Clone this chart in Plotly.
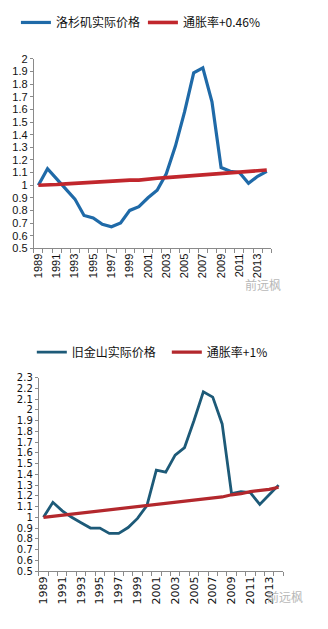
import plotly.graph_objects as go

years = list(range(1989, 2015))

la_real_price = [1.00, 1.13, 1.05, 0.97, 0.89, 0.76, 0.74, 0.69, 0.67, 0.70, 0.80, 0.83, 0.90, 0.96,
                 1.09, 1.31, 1.58, 1.89, 1.93, 1.66, 1.14, 1.11, 1.10, 1.015, 1.07, 1.11]
la_inflation = [1.00, 1.00, 1.005, 1.01, 1.015, 1.02, 1.02, 1.03, 1.035, 1.035, 1.04, 1.04, 1.05, 1.055,
                1.06, 1.065, 1.07, 1.08, 1.085, 1.09, 1.095, 1.10, 1.105, 1.11, 1.115, 1.12]

sf_real_price = [1.00, 1.14, 1.06, 1.00, 0.95, 0.90, 0.90, 0.85, 0.85, 0.905, 0.99, 1.11, 1.44, 1.42,
                 1.58, 1.65, 1.90, 2.17, 2.12, 1.87, 1.22, 1.24, 1.23, 1.12, 1.21, 1.30]
sf_inflation = [1.00, 1.01, 1.02, 1.03, 1.04, 1.05, 1.06, 1.07, 1.08, 1.09, 1.10, 1.11, 1.12, 1.13,
                1.14, 1.15, 1.16, 1.17, 1.18, 1.19, 1.21, 1.22, 1.24, 1.25, 1.26, 1.28]

x_tick_years = list(range(1989, 2015, 2))
x_tick_text = [str(y) for y in x_tick_years]
top_y_ticks = [round(0.5 + 0.1 * i, 1) for i in range(16)]
top_y_text = [("%g" % v) for v in top_y_ticks]
bot_y_ticks = [round(0.5 + 0.1 * i, 1) for i in range(19)]
bot_y_text = [("%g" % v) for v in bot_y_ticks]

W, H = 328, 629

def fx(px):
    return px / W

def fy(py):
    return 1 - py / H

fig = go.Figure()

fig.add_trace(go.Scatter(x=years, y=la_real_price, mode="lines", name="洛杉矶实际价格",
                         line=dict(color="#1f6aa8", width=3.2), xaxis="x", yaxis="y", legend="legend"))
fig.add_trace(go.Scatter(x=years, y=la_inflation, mode="lines", name="通胀率+0.46%",
                         line=dict(color="#c1272d", width=3.6), xaxis="x", yaxis="y", legend="legend"))
fig.add_trace(go.Scatter(x=years, y=sf_real_price, mode="lines", name="旧金山实际价格",
                         line=dict(color="#1d5a78", width=2.8), xaxis="x2", yaxis="y2", legend="legend2"))
fig.add_trace(go.Scatter(x=years, y=sf_inflation, mode="lines", name="通胀率+1%",
                         line=dict(color="#b3282d", width=3.2), xaxis="x2", yaxis="y2", legend="legend2"))

axis_color = "#8a8a8a"
minor_ticks = [y - 0.5 for y in years] + [years[-1] + 0.5]

def xaxis_cfg(dom, anchor, fontfam):
    return dict(domain=dom, anchor=anchor, range=[1988.5, 2014.5], tickmode="array",
                tickvals=x_tick_years, ticktext=x_tick_text, tickangle=-90, ticks="",
                showline=True, linecolor=axis_color, linewidth=1, showgrid=False, zeroline=False,
                tickfont=dict(family=fontfam, size=11, color="#111"),
                minor=dict(tickmode="array", tickvals=minor_ticks, ticks="outside", ticklen=4,
                           tickcolor=axis_color, showgrid=False))

def yaxis_cfg(dom, anchor, rng, tv, tt, fontfam, size):
    return dict(domain=dom, anchor=anchor, range=rng, tickmode="array", tickvals=tv, ticktext=tt,
                ticks="outside", ticklen=3, tickcolor=axis_color, showline=True, linecolor=axis_color,
                linewidth=1, showgrid=False, zeroline=False,
                tickfont=dict(family=fontfam, size=size, color="#111"))

fig.update_layout(
    width=W, height=H, margin=dict(l=0, r=0, t=0, b=0),
    paper_bgcolor="white", plot_bgcolor="white",
    xaxis=xaxis_cfg([fx(32), fx(271)], "y", "Liberation Sans"),
    yaxis=yaxis_cfg([fy(247), fy(54)], "x", [0.5, 2.0], top_y_ticks, top_y_text, "Liberation Sans", 11),
    xaxis2=xaxis_cfg([fx(37), fx(283)], "y2", "DejaVu Sans"),
    yaxis2=yaxis_cfg([fy(576), fy(379)], "x2", [0.5, 2.3], bot_y_ticks, bot_y_text, "DejaVu Sans", 10),
    legend=dict(orientation="h", x=fx(14), y=fy(2), xanchor="left", yanchor="top",
                entrywidth=82, entrywidthmode="pixels", font=dict(family="Noto Sans CJK SC", size=12, color="#111"),
                bgcolor="rgba(0,0,0,0)"),
    legend2=dict(orientation="h", x=fx(30), y=fy(338), xanchor="left", yanchor="top",
                 entrywidth=90, entrywidthmode="pixels", font=dict(family="Noto Sans CJK SC", size=12, color="#111"),
                 bgcolor="rgba(0,0,0,0)"),
    showlegend=True,
    annotations=[
        dict(text="前远枫", x=fx(283), y=fy(284), xref="paper", yref="paper", showarrow=False,
             font=dict(family="Noto Sans CJK SC", size=12, color="#b8b8b8")),
        dict(text="前远枫", x=fx(305), y=fy(613), xref="paper", yref="paper", showarrow=False,
             font=dict(family="Noto Sans CJK SC", size=12, color="#b8b8b8")),
    ],
)

fig.write_html("out.html")
